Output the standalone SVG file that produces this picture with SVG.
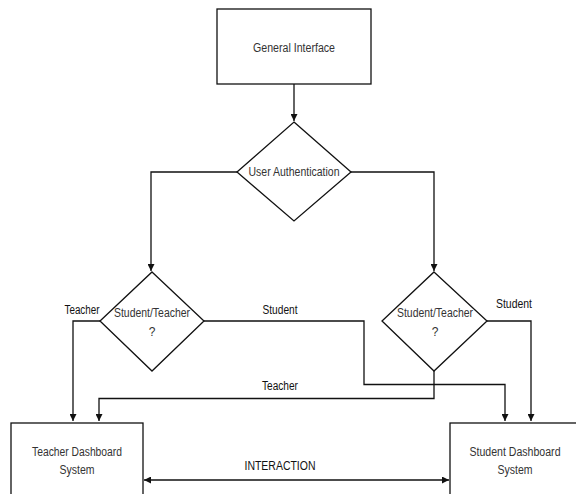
<svg xmlns="http://www.w3.org/2000/svg" width="576" height="494" viewBox="0 0 576 494">
<style>
.box{fill:#fff;stroke:#111;stroke-width:1.3}
.ln{fill:none;stroke:#111;stroke-width:1.3}
.t{font-family:"Liberation Sans",Arial,sans-serif;font-size:12px;fill:#333;text-anchor:middle}
.lb{font-family:"Liberation Sans",Arial,sans-serif;font-size:12px;fill:#111;text-anchor:middle}
</style>
<defs>
<marker id="ah" viewBox="0 0 10 10" refX="10" refY="5" markerWidth="7" markerHeight="7" markerUnits="userSpaceOnUse" orient="auto-start-reverse">
<path d="M0,0 L10,5 L0,10 z" fill="#111"/>
</marker>
</defs>
<rect width="576" height="494" fill="#fff"/>
<g id="connectors">
<path class="ln" d="M294,84 V121" marker-end="url(#ah)"/>
<path class="ln" d="M237,172 H151 V271" marker-end="url(#ah)"/>
<path class="ln" d="M351,172 H434 V271" marker-end="url(#ah)"/>
<path class="ln" d="M100,321 H73 V421" marker-end="url(#ah)"/>
<path class="ln" d="M204,321 H364 V384.5 H505 V421" marker-end="url(#ah)"/>
<path class="ln" d="M434,371 V398.5 H99 V421" marker-end="url(#ah)"/>
<path class="ln" d="M487,321 H531 V421" marker-end="url(#ah)"/>
<path class="ln" d="M144,480 H449" marker-start="url(#ah)" marker-end="url(#ah)"/>
<text class="lb" x="82" y="314" textLength="35" lengthAdjust="spacingAndGlyphs">Teacher</text>
<text class="lb" x="280" y="314" textLength="35" lengthAdjust="spacingAndGlyphs">Student</text>
<text class="lb" x="514" y="308" textLength="36" lengthAdjust="spacingAndGlyphs">Student</text>
<text class="lb" x="280" y="390" textLength="36" lengthAdjust="spacingAndGlyphs">Teacher</text>
<text class="lb" x="280" y="470" textLength="71" lengthAdjust="spacingAndGlyphs">INTERACTION</text>
</g>
<g id="general-interface">
<rect class="box" x="217" y="9" width="154" height="75"/>
<text class="t" x="294" y="52" textLength="82" lengthAdjust="spacingAndGlyphs">General Interface</text>
</g>
<g id="user-authentication">
<polygon class="box" points="294,122 351,172 294,221 237,172"/>
<text class="t" x="294" y="176" textLength="91" lengthAdjust="spacingAndGlyphs">User Authentication</text>
</g>
<g id="decision-left">
<polygon class="box" points="152,272 204,321 152,371 100,321"/>
<text class="t" x="152" y="317" textLength="76" lengthAdjust="spacingAndGlyphs">Student/Teacher</text>
<text class="t" x="152" y="336">?</text>
</g>
<g id="decision-right">
<polygon class="box" points="434,272 487,321 434,371 382,321"/>
<text class="t" x="435" y="317" textLength="76" lengthAdjust="spacingAndGlyphs">Student/Teacher</text>
<text class="t" x="435" y="336">?</text>
</g>
<g id="teacher-dashboard">
<rect class="box" x="11" y="423" width="132" height="80"/>
<text class="t" x="77" y="456" textLength="90" lengthAdjust="spacingAndGlyphs">Teacher Dashboard</text>
<text class="t" x="77" y="474" textLength="35" lengthAdjust="spacingAndGlyphs">System</text>
</g>
<g id="student-dashboard">
<rect class="box" x="450" y="423" width="140" height="80"/>
<text class="t" x="515" y="456" textLength="91" lengthAdjust="spacingAndGlyphs">Student Dashboard</text>
<text class="t" x="515" y="474" textLength="35" lengthAdjust="spacingAndGlyphs">System</text>
</g>
</svg>
